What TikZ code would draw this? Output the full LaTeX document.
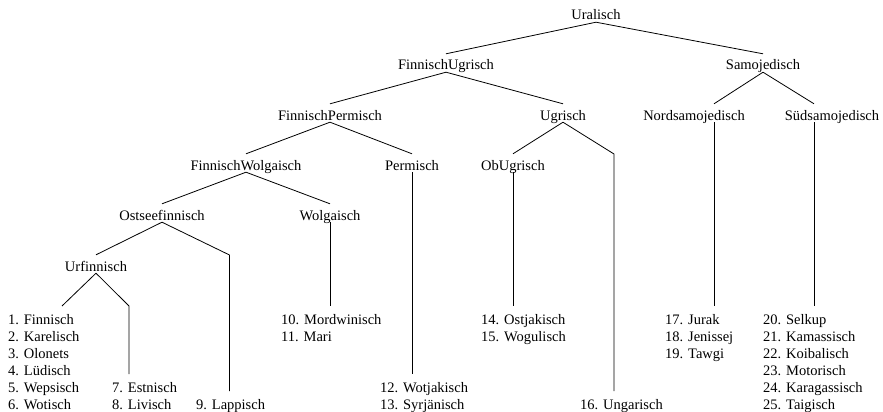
\documentclass[tikz,border=0pt]{standalone}
\usepackage{fontspec}
\setmainfont{Liberation Serif}
\newcommand\leafstrut{\rule{0pt}{18pt}}
\begin{document}
\begin{tikzpicture}[x=1pt,y=-1pt,
  every node/.style={font=\fontsize{14.5pt}{17pt}\selectfont},
  group/.style={anchor=base, text height=14pt, text depth=0pt,
                inner xsep=0pt, inner ysep=2pt},
  leaves/.style={anchor=north west, align=left, inner sep=0pt},
  branch/.style={line width=0.8pt, line join=round}]
\useasboundingbox (0,0) rectangle (883,412);

% inner nodes of the family tree
\node[group] (ural) at (596,20)  {Uralisch};
\node[group] (fu)   at (446,70)  {FinnischUgrisch};
\node[group] (sam)  at (763,70)  {Samojedisch};
\node[group] (fp)   at (330,120) {FinnischPermisch};
\node[group] (ugr)  at (563,120) {Ugrisch};
\node[group] (nord) at (694,120) {Nordsamojedisch};
\node[group] (sued) at (832,120) {Südsamojedisch};
\node[group] (fw)   at (246,170) {FinnischWolgaisch};
\node[group] (perm) at (412,170) {Permisch};
\node[group] (obu)  at (513,170) {ObUgrisch};
\node[group] (ost)  at (162,220) {Ostseefinnisch};
\node[group] (wolg) at (330,220) {Wolgaisch};
\node[group] (urf)  at (96,271)  {Urfinnisch};

% single languages
\node[leaves] (l1)  at (8,306)   {\leafstrut 1. Finnisch\\2. Karelisch\\3. Olonets\\4. Lüdisch\\5. Wepsisch\\6. Wotisch};
\node[leaves] (l7)  at (112,374) {\leafstrut 7. Estnisch\\8. Livisch};
\node[leaves] (l9)  at (196,391) {\leafstrut 9. Lappisch};
\node[leaves] (l10) at (281,306) {\leafstrut 10. Mordwinisch\\11. Mari};
\node[leaves] (l12) at (380,374) {\leafstrut 12. Wotjakisch\\13. Syrjänisch};
\node[leaves] (l14) at (481,306) {\leafstrut 14. Ostjakisch\\15. Wogulisch};
\node[leaves] (l16) at (580,391) {\leafstrut 16. Ungarisch};
\node[leaves] (l17) at (665,306) {\leafstrut 17. Jurak\\18. Jenissej\\19. Tawgi};
\node[leaves] (l20) at (763,306) {\leafstrut 20. Selkup\\21. Kamassisch\\22. Koibalisch\\23. Motorisch\\24. Karagassisch\\25. Taigisch};

% bends of the branches that reach down to a single language
\coordinate (k1)  at (62,306);
\coordinate (k7)  at (129,306);
\coordinate (k9)  at (229.5,255);
\coordinate (k16) at (614,154);

% branches
\draw[branch] (ural.south) -- (fu.north);
\draw[branch] (ural.south) -- (sam.north);
\draw[branch] (fu.south) -- (fp.north);
\draw[branch] (fu.south) -- (ugr.north);
\draw[branch] (fp.south) -- (fw.north);
\draw[branch] (fp.south) -- (perm.north);
\draw[branch] (fw.south) -- (ost.north);
\draw[branch] (fw.south) -- (wolg.north);
\draw[branch] (ost.south) -- (urf.north);
\draw[branch] (ost.south) -- (k9) -- (k9 |- l9.north);
\draw[branch] (urf.south) -- (k1 |- l1.north);
\draw[branch] (urf.south) -- (k7) -- (k7 |- l7.north);
\draw[branch] (wolg.south) -- (wolg.south |- l10.north);
\draw[branch] (perm.south) -- (perm.south |- l12.north);
\draw[branch] (ugr.south) -- (obu.north);
\draw[branch] (ugr.south) -- (k16) -- (k16 |- l16.north);
\draw[branch] (obu.south) -- (obu.south |- l14.north);
\draw[branch] (sam.south) -- ([xshift=20pt]nord.north);
\draw[branch] (sam.south) -- ([xshift=-18pt]sued.north);
\draw[branch] ([xshift=20pt]nord.south) -- ([xshift=20pt]nord.south |- l17.north);
\draw[branch] ([xshift=-18pt]sued.south) -- ([xshift=-18pt]sued.south |- l20.north);
\end{tikzpicture}
\end{document}
